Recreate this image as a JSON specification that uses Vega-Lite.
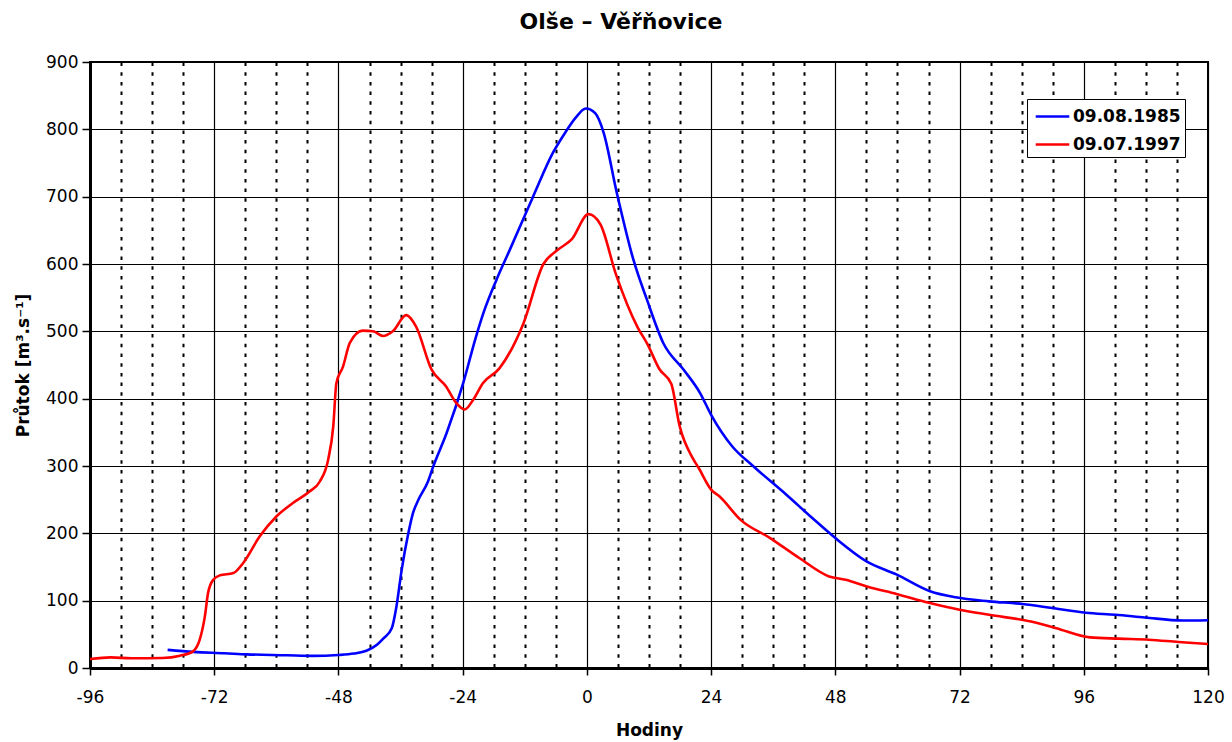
{
  "$schema": "https://vega.github.io/schema/vega-lite/v6.json",
  "width": 1118,
  "height": 606,
  "autosize": {"type": "none"},
  "padding": {"left": 90, "top": 62, "right": 24, "bottom": 74},
  "background": "white",
  "title": {
    "text": "Olše – Věřňovice",
    "font": "DejaVu Sans",
    "fontSize": 22,
    "fontWeight": "bold",
    "color": "black",
    "anchor": "middle",
    "dx": -28,
    "offset": 19
  },
  "config": {
    "view": {"stroke": "black", "strokeWidth": 2},
    "axis": {
      "labelFont": "DejaVu Sans",
      "labelFontSize": 17,
      "labelColor": "black",
      "titleFont": "DejaVu Sans",
      "titleFontSize": 17,
      "titleFontWeight": "bold",
      "titleColor": "black",
      "domainColor": "black",
      "domainWidth": 3,
      "tickColor": "black",
      "tickWidth": 1.5,
      "gridColor": "black"
    }
  },
  "data": {
    "values": [
      {"serie": "09.08.1985", "h": -81, "q": 27},
      {"serie": "09.08.1985", "h": -76, "q": 24},
      {"serie": "09.08.1985", "h": -70, "q": 22},
      {"serie": "09.08.1985", "h": -65.7, "q": 20.3},
      {"serie": "09.08.1985", "h": -58, "q": 19},
      {"serie": "09.08.1985", "h": -53, "q": 18},
      {"serie": "09.08.1985", "h": -48, "q": 19.3},
      {"serie": "09.08.1985", "h": -45, "q": 21.5},
      {"serie": "09.08.1985", "h": -42.6, "q": 25.7},
      {"serie": "09.08.1985", "h": -40.5, "q": 35},
      {"serie": "09.08.1985", "h": -39.3, "q": 44},
      {"serie": "09.08.1985", "h": -37.7, "q": 59},
      {"serie": "09.08.1985", "h": -36.8, "q": 91},
      {"serie": "09.08.1985", "h": -35.8, "q": 145},
      {"serie": "09.08.1985", "h": -34.5, "q": 200},
      {"serie": "09.08.1985", "h": -33.6, "q": 230},
      {"serie": "09.08.1985", "h": -32.6, "q": 249},
      {"serie": "09.08.1985", "h": -30.7, "q": 277},
      {"serie": "09.08.1985", "h": -29.7, "q": 299},
      {"serie": "09.08.1985", "h": -27.1, "q": 349},
      {"serie": "09.08.1985", "h": -23.9, "q": 423},
      {"serie": "09.08.1985", "h": -21.5, "q": 490},
      {"serie": "09.08.1985", "h": -20, "q": 527},
      {"serie": "09.08.1985", "h": -17.5, "q": 576},
      {"serie": "09.08.1985", "h": -14.9, "q": 621},
      {"serie": "09.08.1985", "h": -10.4, "q": 700},
      {"serie": "09.08.1985", "h": -6.5, "q": 766},
      {"serie": "09.08.1985", "h": -4.2, "q": 795},
      {"serie": "09.08.1985", "h": -2.2, "q": 817},
      {"serie": "09.08.1985", "h": -0.2, "q": 831},
      {"serie": "09.08.1985", "h": 1.6, "q": 824},
      {"serie": "09.08.1985", "h": 3.2, "q": 796},
      {"serie": "09.08.1985", "h": 5.8, "q": 705},
      {"serie": "09.08.1985", "h": 9, "q": 606},
      {"serie": "09.08.1985", "h": 11.6, "q": 547},
      {"serie": "09.08.1985", "h": 14.8, "q": 482},
      {"serie": "09.08.1985", "h": 18.7, "q": 443},
      {"serie": "09.08.1985", "h": 21.9, "q": 408},
      {"serie": "09.08.1985", "h": 24, "q": 376},
      {"serie": "09.08.1985", "h": 28.1, "q": 329},
      {"serie": "09.08.1985", "h": 32.1, "q": 300},
      {"serie": "09.08.1985", "h": 38.6, "q": 257},
      {"serie": "09.08.1985", "h": 43.5, "q": 223},
      {"serie": "09.08.1985", "h": 48, "q": 193},
      {"serie": "09.08.1985", "h": 54.1, "q": 158},
      {"serie": "09.08.1985", "h": 59.8, "q": 139},
      {"serie": "09.08.1985", "h": 66.3, "q": 114},
      {"serie": "09.08.1985", "h": 71.2, "q": 105},
      {"serie": "09.08.1985", "h": 77.7, "q": 99},
      {"serie": "09.08.1985", "h": 84.2, "q": 95},
      {"serie": "09.08.1985", "h": 89.9, "q": 89},
      {"serie": "09.08.1985", "h": 96.4, "q": 82},
      {"serie": "09.08.1985", "h": 102.1, "q": 79},
      {"serie": "09.08.1985", "h": 107.8, "q": 75},
      {"serie": "09.08.1985", "h": 115.1, "q": 70.5},
      {"serie": "09.08.1985", "h": 120, "q": 71},
      {"serie": "09.07.1997", "h": -96, "q": 13.4},
      {"serie": "09.07.1997", "h": -92, "q": 15.8},
      {"serie": "09.07.1997", "h": -88, "q": 14.4},
      {"serie": "09.07.1997", "h": -82, "q": 14.9},
      {"serie": "09.07.1997", "h": -78.6, "q": 18.3},
      {"serie": "09.07.1997", "h": -76.1, "q": 24.8},
      {"serie": "09.07.1997", "h": -74.8, "q": 42},
      {"serie": "09.07.1997", "h": -73.8, "q": 77},
      {"serie": "09.07.1997", "h": -73.2, "q": 111},
      {"serie": "09.07.1997", "h": -72.2, "q": 131},
      {"serie": "09.07.1997", "h": -70.9, "q": 137.6},
      {"serie": "09.07.1997", "h": -68.3, "q": 141},
      {"serie": "09.07.1997", "h": -66.4, "q": 156},
      {"serie": "09.07.1997", "h": -63.2, "q": 195.5},
      {"serie": "09.07.1997", "h": -60, "q": 225},
      {"serie": "09.07.1997", "h": -56.8, "q": 245},
      {"serie": "09.07.1997", "h": -53.6, "q": 262},
      {"serie": "09.07.1997", "h": -51.6, "q": 277},
      {"serie": "09.07.1997", "h": -50, "q": 309},
      {"serie": "09.07.1997", "h": -49, "q": 359},
      {"serie": "09.07.1997", "h": -48.4, "q": 423},
      {"serie": "09.07.1997", "h": -47.1, "q": 448},
      {"serie": "09.07.1997", "h": -45.8, "q": 483},
      {"serie": "09.07.1997", "h": -43.3, "q": 501},
      {"serie": "09.07.1997", "h": -41.3, "q": 500},
      {"serie": "09.07.1997", "h": -39.4, "q": 493},
      {"serie": "09.07.1997", "h": -37.5, "q": 500},
      {"serie": "09.07.1997", "h": -34.9, "q": 524},
      {"serie": "09.07.1997", "h": -33, "q": 507},
      {"serie": "09.07.1997", "h": -30, "q": 443},
      {"serie": "09.07.1997", "h": -27.2, "q": 418},
      {"serie": "09.07.1997", "h": -25.3, "q": 394},
      {"serie": "09.07.1997", "h": -23.6, "q": 384},
      {"serie": "09.07.1997", "h": -22, "q": 398},
      {"serie": "09.07.1997", "h": -20.1, "q": 423},
      {"serie": "09.07.1997", "h": -16.9, "q": 445},
      {"serie": "09.07.1997", "h": -12.3, "q": 511},
      {"serie": "09.07.1997", "h": -8.4, "q": 600},
      {"serie": "09.07.1997", "h": -5.8, "q": 620},
      {"serie": "09.07.1997", "h": -2.9, "q": 637},
      {"serie": "09.07.1997", "h": 0.3, "q": 674},
      {"serie": "09.07.1997", "h": 2.6, "q": 659},
      {"serie": "09.07.1997", "h": 5.6, "q": 585},
      {"serie": "09.07.1997", "h": 9.8, "q": 506},
      {"serie": "09.07.1997", "h": 11.7, "q": 481},
      {"serie": "09.07.1997", "h": 14, "q": 444},
      {"serie": "09.07.1997", "h": 16.3, "q": 422},
      {"serie": "09.07.1997", "h": 17.9, "q": 360},
      {"serie": "09.07.1997", "h": 20.5, "q": 311},
      {"serie": "09.07.1997", "h": 21.6, "q": 297},
      {"serie": "09.07.1997", "h": 24, "q": 265},
      {"serie": "09.07.1997", "h": 25.6, "q": 255},
      {"serie": "09.07.1997", "h": 29.7, "q": 220},
      {"serie": "09.07.1997", "h": 35.4, "q": 193},
      {"serie": "09.07.1997", "h": 41.1, "q": 163},
      {"serie": "09.07.1997", "h": 46.8, "q": 136},
      {"serie": "09.07.1997", "h": 50, "q": 131},
      {"serie": "09.07.1997", "h": 54.1, "q": 121},
      {"serie": "09.07.1997", "h": 59.8, "q": 110},
      {"serie": "09.07.1997", "h": 66.3, "q": 96.5},
      {"serie": "09.07.1997", "h": 72, "q": 86.6},
      {"serie": "09.07.1997", "h": 77.7, "q": 79},
      {"serie": "09.07.1997", "h": 85.8, "q": 69},
      {"serie": "09.07.1997", "h": 90.7, "q": 59},
      {"serie": "09.07.1997", "h": 97.2, "q": 45.5},
      {"serie": "09.07.1997", "h": 102.9, "q": 43.6},
      {"serie": "09.07.1997", "h": 108.6, "q": 42},
      {"serie": "09.07.1997", "h": 114.3, "q": 38.6},
      {"serie": "09.07.1997", "h": 120, "q": 35.6}
    ]
  },
  "mark": {"type": "line", "interpolate": "monotone", "strokeWidth": 2.6, "clip": true},
  "encoding": {
    "x": {
      "field": "h",
      "type": "quantitative",
      "scale": {"domain": [-96, 120], "nice": false},
      "axis": {
        "title": "Hodiny",
        "values": [-96, -90, -84, -78, -72, -66, -60, -54, -48, -42, -36, -30, -24, -18, -12, -6, 0, 6, 12, 18, 24, 30, 36, 42, 48, 54, 60, 66, 72, 78, 84, 90, 96, 102, 108, 114, 120],
        "labelExpr": "datum.value % 24 === 0 ? '' + datum.value : ''",
        "labelFlush": false,
        "labelPadding": 14,
        "tickSize": 7,
        "tickOpacity": {"condition": {"test": "datum.value % 24 !== 0", "value": 0}, "value": 1},
        "grid": true,
        "gridDash": {"condition": {"test": "datum.value % 24 !== 0", "value": [3.5, 6.2]}, "value": []},
        "gridWidth": {"condition": {"test": "datum.value % 24 !== 0", "value": 2}, "value": 1.2},
        "titlePadding": 17
      }
    },
    "y": {
      "field": "q",
      "type": "quantitative",
      "scale": {"domain": [0, 900], "nice": false},
      "axis": {
        "title": "Průtok [m³.s⁻¹]",
        "values": [0, 100, 200, 300, 400, 500, 600, 700, 800, 900],
        "labelFlush": false,
        "tickSize": 8,
        "labelPadding": 4,
        "grid": true,
        "gridWidth": 1.2,
        "titlePadding": 13
      }
    },
    "color": {
      "field": "serie",
      "type": "nominal",
      "scale": {"domain": ["09.08.1985", "09.07.1997"], "range": ["#0000ff", "#ff0000"]},
      "legend": {
        "title": null,
        "orient": "none",
        "legendX": 937,
        "legendY": 37,
        "strokeColor": "black",
        "fillColor": "white",
        "padding": 4,
        "symbolType": "M-1.4,0H1.4",
        "symbolSize": 576,
        "symbolOffset": 8,
        "symbolStrokeWidth": 2.6,
        "labelFont": "DejaVu Sans",
        "labelFontSize": 17,
        "labelFontWeight": "bold",
        "labelColor": "black",
        "labelOffset": 7,
        "rowPadding": 6
      }
    }
  }
}
